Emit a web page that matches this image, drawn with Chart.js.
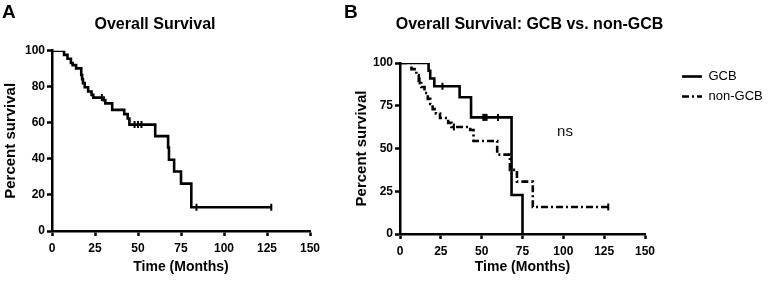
<!DOCTYPE html>
<html>
<head>
<meta charset="utf-8">
<script src="https://cdn.jsdelivr.net/npm/chart.js@4.4.1/dist/chart.umd.min.js"></script>
<style>
  html, body { margin: 0; padding: 0; background: #fff; }
  #wrap { position: relative; width: 770px; height: 285px; overflow: hidden; font-family: "Liberation Sans", Arial, sans-serif; }
  #boxA { position: absolute; left: 0; top: 0; width: 360px; height: 285px; }
  #boxB { position: absolute; left: 340px; top: 0; width: 430px; height: 285px; }
  .tag { position: absolute; font-weight: bold; font-size: 19px; line-height: 19px; color: #000; }
</style>
</head>
<body>
<div id="wrap">
  <div id="boxA"><canvas id="chartA"></canvas></div>
  <div id="boxB"><canvas id="chartB"></canvas></div>
  <div class="tag" style="left:2px;top:2px">A</div>
  <div class="tag" style="left:344px;top:2px">B</div>
</div>
<script>
const FONT = '"Liberation Sans", Arial, sans-serif';

// axis ticks
const xTicks = [0, 25, 50, 75, 100, 125, 150];
const yTicksA = [0, 20, 40, 60, 80, 100];
const yTicksB = [0, 25, 50, 75, 100];

// panel A - overall survival (months, % surviving after each event)
const monthsA = [0, 7, 9, 11, 12, 14, 17, 17.5, 18, 19, 21, 23, 24, 30, 31, 35, 42, 44, 45, 60, 67.5, 68, 71, 75, 81, 127.5];
const survA   = [100, 97.7, 95.5, 93.2, 92.0, 90.2, 86.5, 84.2, 82.0, 79.7, 77.4, 75.5, 74.0, 72.6, 70.8, 67.2, 64.8, 62.4, 59.0, 52.6, 46.3, 39.5, 33.0, 26.3, 13.2, 13.2];
const censorMonthsA = [29, 48, 50, 52, 84, 127.5];
const censorSurvA   = [74.0, 59.0, 59.0, 59.0, 13.2, 13.2];

// panel B - GCB vs non-GCB
const groups = ['GCB', 'non-GCB'];
const monthsGcb = [0, 17.5, 18.5, 21, 36.5, 43.5, 68.3, 75];
const survGcb   = [100, 95.5, 90.9, 86.4, 80.0, 68.2, 22.8, 0];
const censorMonthsGcb = [26, 51, 52, 53, 60];
const censorSurvGcb   = [86.4, 68.2, 68.2, 68.2, 68.2];

const monthsNon = [0, 7, 10, 11.5, 13, 15, 17, 18.5, 20, 22, 24.5, 29.5, 31.5, 43, 45, 59.5, 67.3, 71.6, 81.3, 127.5];
const survNon   = [100, 96.4, 93.0, 89.5, 86.0, 82.5, 79.0, 76.0, 73.0, 70.5, 67.8, 65.0, 62.6, 60.8, 54.4, 46.4, 37.5, 30.6, 15.8, 15.8];
const censorMonthsNon = [12, 33, 127.5];
const censorSurvNon   = [89.5, 62.6, 15.8];

const nsText = 'ns';
const nsPos = [101, 59.5];

const pts = (xs, ys) => xs.map((x, i) => ({ x: x, y: ys[i] }));

function curve(label, xs, ys, dash) {
  return {
    label: label,
    data: pts(xs, ys),
    stepped: true,
    borderColor: '#000',
    backgroundColor: '#000',
    borderWidth: 2.6,
    borderDash: dash || [],
    pointRadius: 0,
    fill: false
  };
}

function censor(xs, ys) {
  return {
    label: 'censored',
    data: pts(xs, ys),
    showLine: false,
    pointStyle: 'line',
    rotation: 90,
    pointRadius: 3.5,
    borderColor: '#000',
    borderWidth: 2
  };
}

function axes(yTicks, xHeight, yTitlePad) {
  const tickFont = { family: FONT, size: 12, weight: 'bold' };
  const border = { display: true, color: '#000', width: 2.5 };
  const grid = { display: true, drawOnChartArea: false, tickLength: 5, tickColor: '#000', tickWidth: 2.5 };
  return {
    x: {
      type: 'linear', min: 0, max: 150,
      afterBuildTicks: s => { s.ticks = xTicks.map(v => ({ value: v })); },
      afterFit: s => { s.height = xHeight; },
      border: border,
      grid: grid,
      ticks: { color: '#000', font: tickFont, padding: 5, maxRotation: 0 },
      title: { display: true, text: 'Time (Months)', color: '#000',
               font: { family: FONT, size: 14, weight: 'bold' }, padding: { top: 0, bottom: 9 } }
    },
    y: {
      type: 'linear', min: 0, max: 100,
      afterBuildTicks: s => { s.ticks = yTicks.map(v => ({ value: v })); },
      afterFit: s => { s.width = 52; },
      border: border,
      grid: grid,
      ticks: { color: '#000', font: tickFont, padding: 2 },
      title: { display: true, text: 'Percent survival', color: '#000',
               font: { family: FONT, size: 15, weight: 'bold' }, padding: { top: yTitlePad, bottom: 0 } }
    }
  };
}

new Chart(document.getElementById('chartA'), {
  type: 'line',
  data: {
    datasets: [
      curve('Overall', monthsA, survA),
      censor(censorMonthsA, censorSurvA)
    ]
  },
  options: {
    responsive: true,
    maintainAspectRatio: false,
    animation: false,
    layout: { padding: { left: 0, right: 50, top: 0, bottom: 0 } },
    scales: axes(yTicksA, 54, 2),
    plugins: {
      legend: { display: false },
      tooltip: { enabled: false },
      title: { display: true, text: 'Overall Survival', color: '#000',
               font: { family: FONT, size: 16, weight: 'bold' }, padding: { top: 15, bottom: 16.5 } }
    }
  }
});

// legend sits a bit right of the plot in the original
const shiftLegend = {
  id: 'shiftLegend',
  afterLayout(chart) {
    chart.legend.left += 30;
    chart.legend.right = chart.width;
  }
};

const nsLabel = {
  id: 'nsLabel',
  afterDatasetsDraw(chart) {
    const { ctx, scales: { x, y } } = chart;
    ctx.save();
    ctx.font = '15px ' + FONT;
    ctx.fillStyle = '#111';
    ctx.textAlign = 'center';
    ctx.textBaseline = 'middle';
    ctx.fillText(nsText, x.getPixelForValue(nsPos[0]), y.getPixelForValue(nsPos[1]));
    ctx.restore();
  }
};

new Chart(document.getElementById('chartB'), {
  type: 'line',
  data: {
    datasets: [
      curve(groups[0], monthsGcb, survGcb),
      curve(groups[1], monthsNon, survNon, [7, 3, 2, 3]),
      censor(censorMonthsGcb, censorSurvGcb),
      censor(censorMonthsNon, censorSurvNon)
    ]
  },
  options: {
    responsive: true,
    maintainAspectRatio: false,
    animation: false,
    layout: { padding: { left: 8, right: 59, top: 0, bottom: 0 } },
    scales: axes(yTicksB, 51, 5),
    plugins: {
      legend: {
        display: true,
        position: 'right',
        align: 'start',
        fullSize: false,
        maxWidth: 66,
        labels: {
          usePointStyle: true,
          pointStyle: 'line',
          pointStyleWidth: 20,
          padding: 7,
          color: '#000',
          font: { family: FONT, size: 13 },
          // point style legend ignores the line dash, so copy it over
          generateLabels: chart => Chart.defaults.plugins.legend.labels.generateLabels(chart).map(item => {
            const ds = chart.data.datasets[item.datasetIndex];
            return Object.assign(item, { lineDash: ds.borderDash, lineWidth: ds.borderWidth, strokeStyle: '#000' });
          }),
          filter: item => item.datasetIndex < 2
        }
      },
      tooltip: { enabled: false },
      title: { display: true, text: 'Overall Survival: GCB vs. non-GCB', color: '#000',
               font: { family: FONT, size: 16, weight: 'bold' }, padding: { top: 15, bottom: 28.8 } }
    }
  },
  plugins: [shiftLegend, nsLabel]
});
</script>
</body>
</html>
